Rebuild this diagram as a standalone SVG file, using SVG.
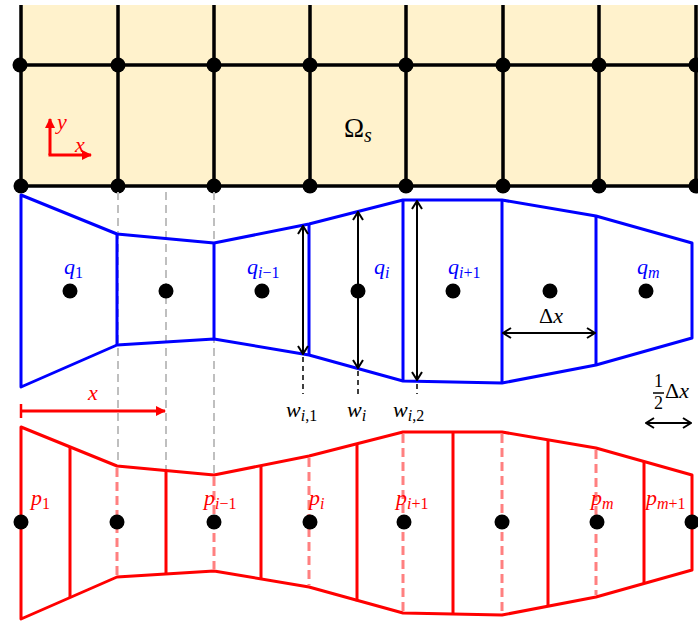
<svg xmlns="http://www.w3.org/2000/svg" width="698" height="623" viewBox="0 0 698 623">
<style>
text{font-family:"Liberation Serif","DejaVu Serif",serif;font-size:22px;font-style:italic}
.up{font-style:normal}
.sub{font-size:16px}
.blue{fill:#0000FF}
.red{fill:#FF0000}
.blk{fill:#000}
.grid{stroke:#000;stroke-width:3.5;fill:none}
.bline{stroke:#0000FF;stroke-width:3;fill:none;stroke-linejoin:round}
.rline{stroke:#FF0000;stroke-width:3;fill:none;stroke-linejoin:round}
.rdash{stroke:#FF8080;stroke-width:3;stroke-dasharray:9 5;fill:none}
.gdash{stroke:#BFBFBF;stroke-width:2;stroke-dasharray:8 5;fill:none}
.kdash{stroke:#000;stroke-width:1.5;stroke-dasharray:5 4;fill:none}
.darr{stroke:#000;stroke-width:2;fill:none;marker-start:url(#oa);marker-end:url(#oa)}
.rarr{stroke:#FF0000;stroke-width:3;fill:none;marker-end:url(#ra)}
</style>
<defs>
<marker id="oa" viewBox="0 0 10 12" refX="9" refY="6" markerWidth="10" markerHeight="12" markerUnits="userSpaceOnUse" orient="auto-start-reverse">
<path d="M1,1 L9,6 L1,11" fill="none" stroke="#000" stroke-width="2"/>
</marker>
<marker id="ra" viewBox="0 0 10 10" refX="9" refY="5" markerWidth="10" markerHeight="10" markerUnits="userSpaceOnUse" orient="auto">
<path d="M0,0 L10,5 L0,10 z" fill="#FF0000"/>
</marker>
</defs>

<g id="grid">
<rect x="21" y="5" width="677" height="181" fill="#FFF2CC"/>
<path class="grid" d="M21,5V186 M118,5V186 M214,5V186 M310,5V186 M406,5V186 M503,5V186 M599,5V186 M696,5V186 M20,65H698 M20,186H698"/>
<g fill="#000">
<circle cx="20" cy="65" r="7.5"/><circle cx="118" cy="65" r="7.5"/><circle cx="214" cy="65" r="7.5"/><circle cx="310" cy="65" r="7.5"/><circle cx="406" cy="65" r="7.5"/><circle cx="503" cy="65" r="7.5"/><circle cx="599" cy="65" r="7.5"/><circle cx="696" cy="65" r="7.5"/>
<circle cx="21" cy="186" r="7.5"/><circle cx="118" cy="186" r="7.5"/><circle cx="214" cy="186" r="7.5"/><circle cx="310" cy="186" r="7.5"/><circle cx="406" cy="186" r="7.5"/><circle cx="503" cy="186" r="7.5"/><circle cx="599" cy="186" r="7.5"/><circle cx="696" cy="186" r="7.5"/>
</g>
<text class="blk up" x="344" y="137" style="font-size:27px">Ω<tspan class="blk" style="font-style:italic;font-size:20px" dy="5">s</tspan></text>
</g>

<g id="axes">
<path class="rarr" d="M50,155 V119"/>
<path class="rarr" d="M48.5,155 H91"/>
<text class="red" x="57" y="129">y</text>
<text class="red" x="75" y="152">x</text>
</g>

<g id="connectors">
<path class="gdash" d="M118,192 V466 M166,192 V471 M214,192 V476"/>
</g>

<g id="blue-cells">
<path class="bline" d="M21,195 L117,234 L214,243 L309,224 L403,200 L502,200 L596,216 L692,243 L692,338 L596,365 L502,383 L403,381 L309,355 L214,339 L117,345 L21,387 Z"/>
<path class="bline" d="M117,234 V345 M214,243 V339 M309,224 V355 M403,200 V381 M502,200 V383 M596,216 V365"/>
<g fill="#000">
<circle cx="70" cy="291" r="7.5"/><circle cx="166" cy="291" r="7.5"/><circle cx="262" cy="291" r="7.5"/><circle cx="358" cy="291" r="7.5"/><circle cx="453" cy="291" r="7.5"/><circle cx="550" cy="291" r="7.5"/><circle cx="646" cy="291" r="7.5"/>
</g>
<text class="blue" x="64" y="274">q<tspan class="sub up" dy="4">1</tspan></text>
<text class="blue" x="247" y="274">q<tspan class="sub" dy="4">i</tspan><tspan class="sub up">−1</tspan></text>
<text class="blue" x="374" y="274">q<tspan class="sub" dy="4">i</tspan></text>
<text class="blue" x="448" y="274">q<tspan class="sub" dy="4">i</tspan><tspan class="sub up">+1</tspan></text>
<text class="blue" x="637" y="274">q<tspan class="sub" dy="4">m</tspan></text>
</g>

<g id="widths">
<path class="darr" d="M303,226 V354"/>
<path class="darr" d="M358,212 V368"/>
<path class="darr" d="M417,201 V380"/>
<path class="kdash" d="M303,357 V394 M358,371 V394 M417,384 V394"/>
<text class="blk" x="286" y="417">w<tspan class="sub" dy="4">i</tspan><tspan class="sub up">,1</tspan></text>
<text class="blk" x="347" y="417">w<tspan class="sub" dy="4">i</tspan></text>
<text class="blk" x="393" y="417">w<tspan class="sub" dy="4">i</tspan><tspan class="sub up">,2</tspan></text>
<path class="darr" d="M503,333 H595"/>
<text class="blk" x="539" y="323"><tspan class="up">Δ</tspan>x</text>
</g>

<g id="half-dx">
<text class="blk up" x="654" y="387" style="font-size:18px">1</text>
<path d="M653,393 H664" stroke="#000" stroke-width="1.5"/>
<text class="blk up" x="654" y="409" style="font-size:18px">2</text>
<text class="blk" x="665" y="398"><tspan class="up">Δ</tspan>x</text>
<path class="darr" d="M646,423 H691"/>
</g>

<g id="x-measure">
<path d="M21,404 V418" stroke="#FF0000" stroke-width="2.5"/>
<path class="rarr" d="M21,411 H165"/>
<text class="red" x="88" y="400">x</text>
</g>

<g id="red-cells">
<path class="rline" d="M21,427 L117,466 L214,475 L309,456 L403,432 L502,432 L596,448 L692,475 L692,570 L596,597 L502,615 L403,613 L309,587 L214,571 L117,577 L21,619 Z"/>
<path class="rdash" d="M117,468 V575 M214,477 V569 M309,458 V585 M403,434 V611 M502,434 V613 M596,450 V595"/>
<path class="rline" d="M70,447 V598 M166,470.5 V574 M261,465.6 V579.4 M357,443.7 V601.3 M453,432 V614.5 M548,439.8 V606.2 M644,461.5 V583.5"/>
<g fill="#000">
<circle cx="21" cy="522" r="7.5"/><circle cx="117" cy="522" r="7.5"/><circle cx="214" cy="522" r="7.5"/><circle cx="310" cy="522" r="7.5"/><circle cx="404" cy="522" r="7.5"/><circle cx="502" cy="522" r="7.5"/><circle cx="597" cy="522" r="7.5"/><circle cx="692" cy="522" r="7.5"/>
</g>
<text class="red" x="31" y="505">p<tspan class="sub up" dy="4">1</tspan></text>
<text class="red" x="204" y="505">p<tspan class="sub" dy="4">i</tspan><tspan class="sub up">−1</tspan></text>
<text class="red" x="309" y="505">p<tspan class="sub" dy="4">i</tspan></text>
<text class="red" x="396" y="505">p<tspan class="sub" dy="4">i</tspan><tspan class="sub up">+1</tspan></text>
<text class="red" x="591" y="505">p<tspan class="sub" dy="4">m</tspan></text>
<text class="red" x="646" y="505">p<tspan class="sub" dy="4">m</tspan><tspan class="sub up">+1</tspan></text>
</g>
</svg>
